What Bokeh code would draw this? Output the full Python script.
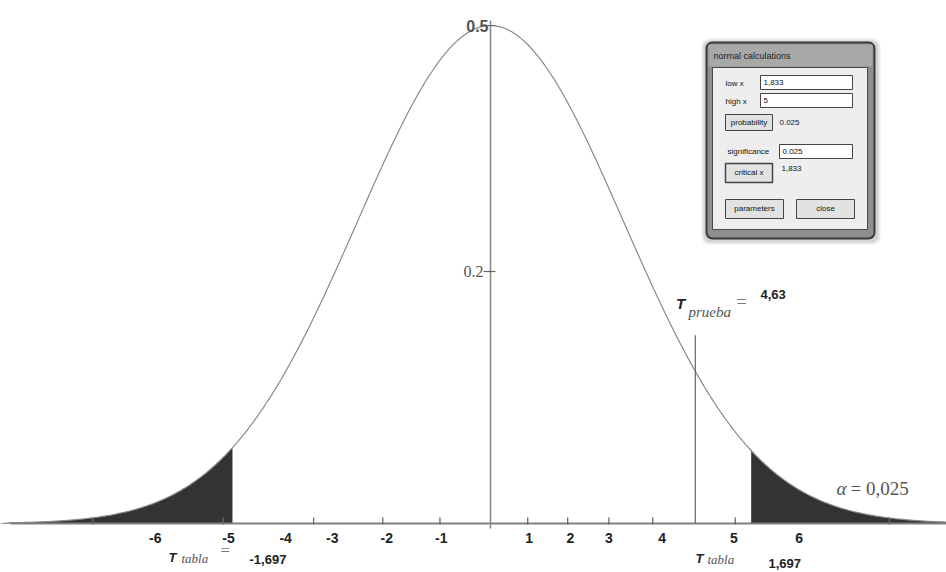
import numpy as np
from bokeh.plotting import figure
from bokeh.models import Range1d
from bokeh.core.properties import value
from bokeh.embed import file_html
from bokeh.resources import INLINE

# ---------------- data ----------------
peak = 0.5                      # height of the density at its mode
crit_left = -1.94               # left shaded tail ends here
crit_right = 1.96               # right shaded tail starts here
t_test = 1.54                   # position of the "T prueba" line
t_test_top = 0.189              # top of the "T prueba" line
x_tick_marks = [-2.99, -2.01, -1.33, -0.81, -0.38, 0.28, 0.58, 0.89, 1.22, 1.84, 3.0]
x_tick_labels = ["-6", "-5", "-4", "-3", "-2", "-1", "1", "2", "3", "4", "5", "6"]
x_tick_label_pos = [-2.52, -1.97, -1.54, -1.19, -0.78, -0.37, 0.29, 0.60, 0.89, 1.29, 1.83, 2.32]
y_tick_pos = [0.253, 0.5]
y_tick_labels = ["0.2", "0.5"]

# ---------------- helpers: reference pixel -> data ----------------
X0, SX, Y0, SY = 490.0, 133.0, 523.0, 996.0
W, H = 946, 572
def dx(px):
    return (px - X0) / SX
def dy(py):
    return (Y0 - py) / SY

p = figure(width=W, height=H, output_backend="svg", toolbar_location=None,
           x_range=Range1d(dx(0), dx(W)), y_range=Range1d(dy(H), dy(0)),
           min_border=0, x_axis_type=None, y_axis_type=None)
p.grid.visible = False
p.outline_line_color = None
p.background_fill_color = "white"
p.border_fill_color = "white"

SANS = value("Liberation Sans")
SERIF = value("Liberation Serif")

# ---------------- curve and tails ----------------
zl = np.linspace(dx(0), crit_left, 200)
zr = np.linspace(crit_right, dx(W), 200)
p.varea(x=zl, y1=0, y2=peak * np.exp(-zl ** 2 / 2), fill_color="#333333")
p.varea(x=zr, y1=0, y2=peak * np.exp(-zr ** 2 / 2), fill_color="#333333")
z = np.linspace(dx(8), dx(W), 800)
p.line(z, peak * np.exp(-z ** 2 / 2), line_color="#8a8a8a", line_width=1.2)

# ---------------- axes ----------------
p.segment(x0=[dx(10)], y0=[0], x1=[dx(W)], y1=[0], line_color="#808080", line_width=2.2)
p.segment(x0=[0], y0=[dy(20)], x1=[0], y1=[dy(528)], line_color="#8a8a8a", line_width=1.6)
p.segment(x0=x_tick_marks, y0=[-1 / SY] * len(x_tick_marks), x1=x_tick_marks,
          y1=[6 / SY] * len(x_tick_marks), line_color="#666666", line_width=1.3)
p.segment(x0=[dx(483)] * 2, y0=y_tick_pos, x1=[dx(495)] * 2, y1=y_tick_pos,
          line_color="#666666", line_width=1.2)

p.text(x=x_tick_label_pos, y=[dy(537)] * len(x_tick_label_pos), text=x_tick_labels,
       text_font=SANS, text_font_style="bold", text_font_size="14px", text_color="#222222",
       text_align="center", text_baseline="middle")
p.text(x=[dx(488)], y=[y_tick_pos[1]], text=[y_tick_labels[1]], text_font=SANS,
       text_font_style="bold", text_font_size="16px", text_color="#555555",
       text_align="right", text_baseline="middle")
p.text(x=[dx(483)], y=[y_tick_pos[0]], text=[y_tick_labels[0]], text_font=SERIF,
       text_font_size="16px", text_color="#555555", text_align="right", text_baseline="middle")

# ---------------- T prueba line and labels ----------------
p.segment(x0=[t_test], y0=[0], x1=[t_test], y1=[t_test_top], line_color="#666666", line_width=1.2)

def label(xp, yp, txt, font=SANS, size="13px", style="normal", color="#222222", align="left"):
    p.text(x=[dx(xp)], y=[dy(yp)], text=[txt], text_font=font, text_font_size=size,
           text_font_style=style, text_color=color, text_align=align, text_baseline="middle")

label(680, 303, "T", style="bold italic", size="15px", align="center")
label(688, 311, "prueba", font=SERIF, style="italic", size="15px", color="#555555")
label(736, 301, "=", font=SERIF, size="18px", color="#777777")
label(760, 294, "4,63", style="bold", size="13px")

label(172, 557, "T", style="bold italic", size="13px", align="center")
label(181, 558, "tabla", font=SERIF, style="italic", size="13px", color="#555555")
label(220, 550, "=", font=SERIF, size="17px", color="#777777")
label(249, 559, "-1,697", style="bold", size="13px")

label(699, 558, "T", style="bold italic", size="13px", align="center")
label(707, 559, "tabla", font=SERIF, style="italic", size="13px", color="#555555")
label(768, 563, "1,697", style="bold", size="13px")

label(836, 488, "α", font=SERIF, style="italic", size="19px", color="#555555")
label(850, 488, "= 0,025", font=SERIF, size="19px", color="#555555")

# ---------------- inset dialog "normal calculations" ----------------
def box(l, t, r, b, fill, line="#444444", lw=1, alpha=1.0, radius=0):
    p.quad(left=dx(l), right=dx(r), top=dy(t), bottom=dy(b), fill_color=fill,
           line_color=line, line_width=lw, fill_alpha=alpha, border_radius=radius)

box(701, 38, 880, 244, "#000000", line=None, alpha=0.08, radius=8)
box(703, 40, 878, 242, "#000000", line=None, alpha=0.10, radius=7)
box(706, 42, 874, 238, "#8e8e8e", line="#3a3a3a", lw=2, radius=6)
box(708, 44, 872, 66, "#a8a8a8", line=None)
label(713, 55, "normal calculations", size="9px", color="#1e1e1e")
box(712, 67, 867, 229, "#eeeeee", line="#4a4a4a")
label(725, 83, "low x", size="8px", color="#111111")
box(760, 75, 852, 89, "white")
label(763, 82, "1,833", size="8px", color="#111111")
label(725, 101, "high x", size="8px", color="#111111")
box(760, 93, 852, 107, "white")
label(763, 100, "5", size="8px", color="#111111")
box(725, 114, 772, 130, "#e2e2e2")
label(748.5, 122, "probability", size="8px", color="#111111", align="center")
label(779, 122, "0.025", size="8px", color="#111111")
label(727, 151, "significance", size="8px", color="#111111")
box(779, 144, 852, 158, "white")
label(782, 151, "0.025", size="8px", color="#111111")
box(725, 163, 772, 182, "#e2e2e2", lw=1.5)
label(748.5, 172, "critical x", size="8px", color="#111111", align="center")
label(781, 168, "1,833", size="8px", color="#111111")
box(725, 199, 783, 218, "#e2e2e2")
label(754, 208, "parameters", size="8px", color="#111111", align="center")
box(796, 199, 854, 218, "#e2e2e2")
label(825, 208, "close", size="8px", color="#111111", align="center")

open("out.html", "w").write(file_html(p, INLINE))
